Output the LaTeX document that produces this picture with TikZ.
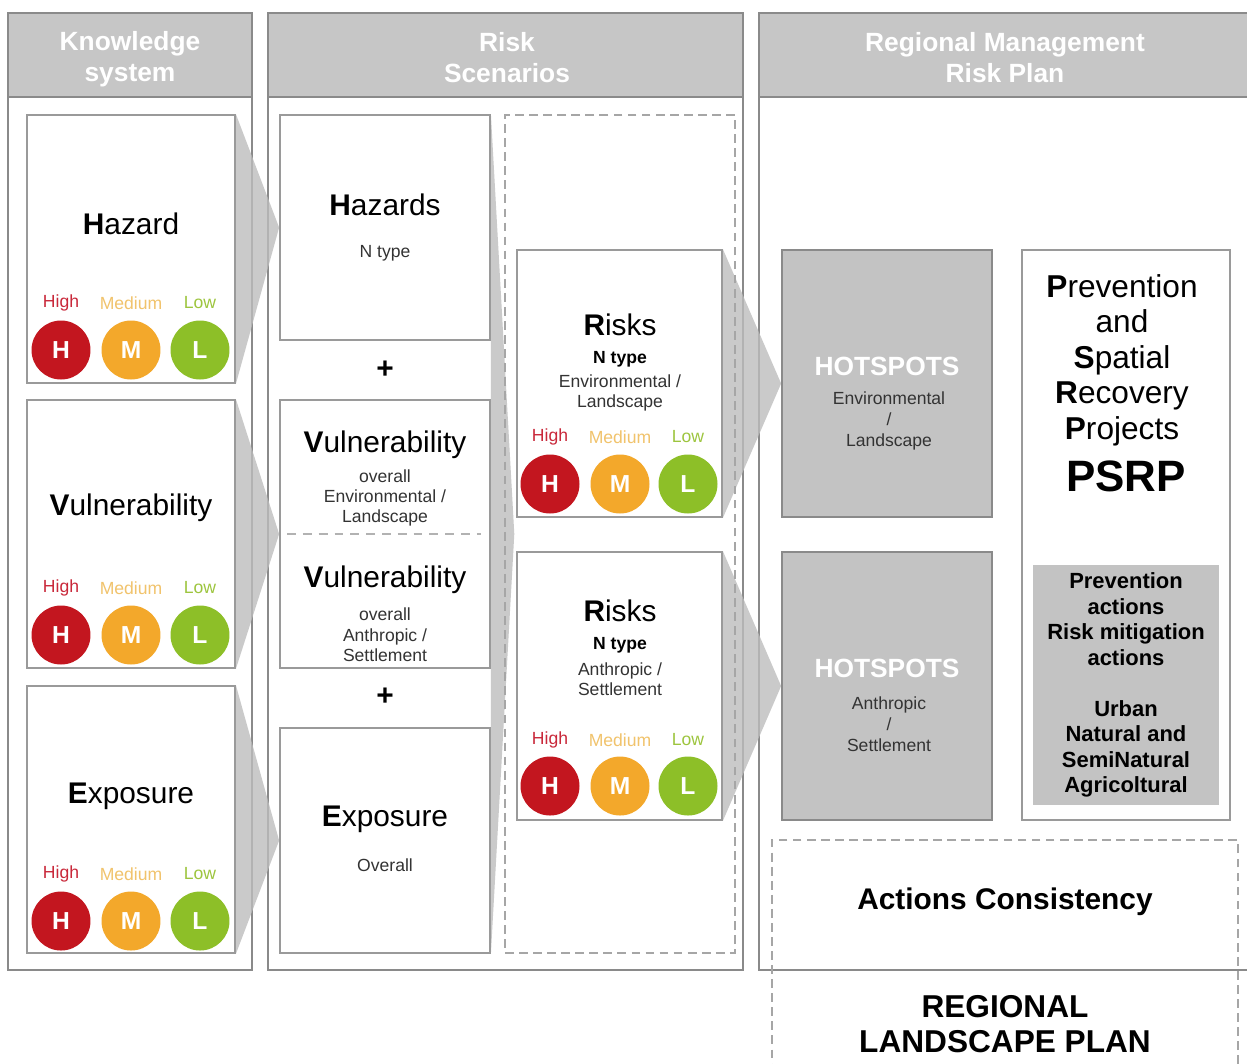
\documentclass[tikz,border=0pt]{standalone}
\usepackage{fontspec}
\setmainfont{Liberation Sans}
\usetikzlibrary{fit}

\definecolor{headgray}{HTML}{C6C6C6}
\definecolor{linegray}{HTML}{8A8A8A}
\definecolor{cardgray}{HTML}{9A9A9A}
\definecolor{hotgray}{HTML}{C3C3C3}
\definecolor{chevgray}{HTML}{BDBDBD}
\definecolor{riskH}{HTML}{C3161F}
\definecolor{riskM}{HTML}{F3A82B}
\definecolor{riskL}{HTML}{8DBF28}
\definecolor{labH}{HTML}{C9283A}
\definecolor{labM}{HTML}{F1C36C}
\definecolor{labL}{HTML}{9DC53E}

\pgfdeclarelayer{back}
\pgfdeclarelayer{mid}
\pgfsetlayers{back,mid,main}

\tikzset{
  panel/.style={draw=linegray, line width=1pt, fill=white, inner sep=0pt},
  header/.style={draw=linegray, line width=1pt, fill=headgray, inner sep=0pt},
  card/.style={draw=cardgray, line width=1pt, fill=white, inner sep=0pt},
  hot/.style={draw=linegray, line width=1pt, fill=hotgray, inner sep=0pt},
  dashbox/.style={draw=gray!70, line width=0.8pt, dash pattern=on 5pt off 3pt, inner sep=0pt},
  divider/.style={draw=gray!60, line width=0.7pt, dash pattern=on 5pt off 4pt},
  chevron/.style={fill=chevgray, fill opacity=0.8},
  headtext/.style={text=white, font=\fontsize{15}{17.6}\selectfont\bfseries, align=center},
  cardtitle/.style={font=\fontsize{17}{20}\selectfont, align=center},
  subtext/.style={font=\fontsize{10}{11.6}\selectfont, align=center, text=black!80},
  lvlname/.style={font=\fontsize{10}{12}\selectfont},
  lvl/.style={circle, minimum size=1.18cm, inner sep=0pt, text=white, font=\fontsize{14}{14}\selectfont\bfseries},
  plus/.style={font=\fontsize{17}{17}\selectfont\bfseries},
}

\begin{document}
\begin{tikzpicture}[x=0.02cm, y=-0.02cm]
    \useasboundingbox (0,0) rectangle (1247,1063);

    % columns and headers
    \begin{pgfonlayer}{back}
        \node[panel, fit={(8,13) (252,970)}] (colK) {};
        \node[panel, fit={(268,13) (743,970)}] (colS) {};
        \node[panel, fit={(759,13) (1260,970)}] (colP) {};
        \node[header, fit={(8,13) (252,97)}] (headK) {};
        \node[header, fit={(268,13) (743,97)}] (headS) {};
        \node[header, fit={(759,13) (1260,97)}] (headP) {};
    \end{pgfonlayer}

    \node[headtext] (tK) at (130,59) {Knowledge\\system};
    \node[headtext] (tS) at (507,58) {Risk\\Scenarios};
    \node[headtext] (tP) at (1005,58) {Regional Management\\Risk Plan};

    % knowledge system
    \node[card, fit={(27,115) (235,383)}] (hazK) {};
    \node[card, fit={(27,400) (235,668)}] (vulK) {};
    \node[card, fit={(27,686) (235,953)}] (expK) {};

    \node[cardtitle] (hazKt) at (131,224) {\textbf{H}azard};
    \node[cardtitle] (vulKt) at (131,508) {\textbf{V}ulnerability};
    \node[cardtitle] (expKt) at (131,796) {\textbf{E}xposure};

    \node[lvlname, text=labH] (hazHi) at (61,303) {High};
    \node[lvlname, text=labM] (hazMe) at (131,303) {Medium};
    \node[lvlname, text=labL] (hazLo) at (200,303) {Low};
    \node[lvl, fill=riskH] (hazH) at (61,350) {H};
    \node[lvl, fill=riskM] (hazM) at (131,350) {M};
    \node[lvl, fill=riskL] (hazL) at (200,350) {L};

    \node[lvlname, text=labH] (vulHi) at (61,588) {High};
    \node[lvlname, text=labM] (vulMe) at (131,588) {Medium};
    \node[lvlname, text=labL] (vulLo) at (200,588) {Low};
    \node[lvl, fill=riskH] (vulH) at (61,635) {H};
    \node[lvl, fill=riskM] (vulM) at (131,635) {M};
    \node[lvl, fill=riskL] (vulL) at (200,635) {L};

    \node[lvlname, text=labH] (expHi) at (61,874) {High};
    \node[lvlname, text=labM] (expMe) at (131,874) {Medium};
    \node[lvlname, text=labL] (expLo) at (200,874) {Low};
    \node[lvl, fill=riskH] (expH) at (61,921) {H};
    \node[lvl, fill=riskM] (expM) at (131,921) {M};
    \node[lvl, fill=riskL] (expL) at (200,921) {L};

    % risk scenarios
    \node[card, fit={(280,115) (490,340)}] (hazS) {};
    \node[card, fit={(280,400) (490,668)}] (vulS) {};
    \node[card, fit={(280,728) (490,953)}] (expS) {};
    \draw[divider] ([xshift=0.16cm]vulS.west) -- ([xshift=-0.2cm]vulS.east);

    \node[cardtitle] (hazSt) at (385,205) {\textbf{H}azards};
    \node[subtext] (hazSn) at (385,253) {N type};
    \node[plus] (plusA) at (385,370) {+};
    \node[cardtitle] (vulEt) at (385,445) {\textbf{V}ulnerability};
    \node[subtext] (vulEn) at (385,498) {overall\\Environmental /\\Landscape};
    \node[cardtitle] (vulAt) at (385,580) {\textbf{V}ulnerability};
    \node[subtext] (vulAn) at (385,635) {overall\\Anthropic /\\Settlement};
    \node[plus] (plusB) at (385,697) {+};
    \node[cardtitle] (expSt) at (385,819) {\textbf{E}xposure};
    \node[subtext] (expSn) at (385,865) {Overall};

    \node[dashbox, fit={(505,115) (735,953)}] (riskZone) {};
    \node[card, fit={(517,250) (722,517)}] (riskEnv) {};
    \node[card, fit={(517,552) (722,820)}] (riskAnt) {};

    \node[cardtitle] (envT) at (620,325) {\textbf{R}isks};
    \node[subtext, text=black, font=\fontsize{10}{11.6}\selectfont\bfseries] (envN) at (620,359) {N type};
    \node[subtext] (envS) at (620,393) {Environmental /\\Landscape};
    \node[lvlname, text=labH] (envHi) at (550,437) {High};
    \node[lvlname, text=labM] (envMe) at (620,437) {Medium};
    \node[lvlname, text=labL] (envLo) at (688,437) {Low};
    \node[lvl, fill=riskH] (envH) at (550,484) {H};
    \node[lvl, fill=riskM] (envM) at (620,484) {M};
    \node[lvl, fill=riskL] (envL) at (688,484) {L};

    \node[cardtitle] (antT) at (620,611) {\textbf{R}isks};
    \node[subtext, text=black, font=\fontsize{10}{11.6}\selectfont\bfseries] (antN) at (620,645) {N type};
    \node[subtext] (antS) at (620,679) {Anthropic /\\Settlement};
    \node[lvlname, text=labH] (antHi) at (550,740) {High};
    \node[lvlname, text=labM] (antMe) at (620,740) {Medium};
    \node[lvlname, text=labL] (antLo) at (688,740) {Low};
    \node[lvl, fill=riskH] (antH) at (550,786) {H};
    \node[lvl, fill=riskM] (antM) at (620,786) {M};
    \node[lvl, fill=riskL] (antL) at (688,786) {L};

    % regional management risk plan
    \node[hot, fit={(782,250) (992,517)}] (hotEnv) {};
    \node[hot, fit={(782,552) (992,820)}] (hotAnt) {};
    \node[headtext] (hotEnvT) at (887,366) {HOTSPOTS};
    \node[subtext, font=\fontsize{10}{11.8}\selectfont] (hotEnvS) at (889,421) {Environmental\\/\\Landscape};
    \node[headtext] (hotAntT) at (887,668) {HOTSPOTS};
    \node[subtext, font=\fontsize{10}{11.8}\selectfont] (hotAntS) at (889,724) {Anthropic\\/\\Settlement};

    \node[card, fit={(1022,250) (1230,820)}] (psrp) {};
    \node[cardtitle, font=\fontsize{18}{20.2}\selectfont] (psrpT) at (1122,360)
        {\textbf{P}revention\\and\\\textbf{S}patial\\\textbf{R}ecovery\\\textbf{P}rojects};
    \node[font=\fontsize{25}{25}\selectfont\bfseries] (psrpN) at (1126,476) {PSRP};
    \node[fill=hotgray, inner sep=0pt, fit={(1033,565) (1219,805)}] (actBox) {};
    \node[align=center, font=\fontsize{12.5}{14.5}\selectfont\bfseries] (actT) at (actBox.center)
        {Prevention\\actions\\Risk mitigation\\actions\\\mbox{}\\Urban\\Natural and\\SemiNatural\\Agricoltural};

    \node[dashbox, fit={(772,840) (1238,1090)}] (consist) {};
    \node[font=\fontsize{17}{20}\selectfont\bfseries] (consistT) at (1005,902) {Actions Consistency};
    \node[align=center, font=\fontsize{18}{20}\selectfont\bfseries] (planT) at (1005,1024) {REGIONAL\\LANDSCAPE PLAN};

    % grey arrows behind the cards
    \begin{pgfonlayer}{mid}
        \fill[chevron] (hazK.north east) -- (hazS.west) -- (hazK.south east) -- cycle;
        \fill[chevron] (vulK.north east) -- (vulS.west) -- (vulK.south east) -- cycle;
        \fill[chevron] (expK.north east) -- (expS.west) -- (expK.south east) -- cycle;
        \fill[chevron] (hazS.north east) -- ([xshift=0.2cm]riskZone.west) -- (expS.south east) -- cycle;
        \fill[chevron] (riskEnv.north east) -- (hotEnv.west) -- (riskEnv.south east) -- cycle;
        \fill[chevron] (riskAnt.north east) -- (hotAnt.west) -- (riskAnt.south east) -- cycle;
    \end{pgfonlayer}
\end{tikzpicture}
\end{document}
